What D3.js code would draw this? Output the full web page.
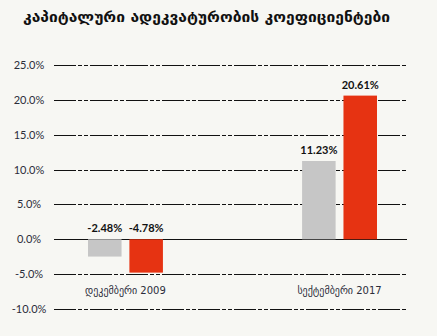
<!DOCTYPE html>
<html><head><meta charset="utf-8">
<script src="https://cdn.jsdelivr.net/npm/d3@7"></script>
<style>
html,body{margin:0;padding:0;background:#f7f7f3;}
svg{display:block;}
</style></head>
<body><svg id="c" width="437" height="336"></svg>
<script>
const title = "კაპიტალური ადეკვატურობის კოეფიციენტები";
const categories = ["დეკემბერი 2009", "სექტემბერი 2017"];
const seriesNames = ["a", "b"];
const seriesA = [-2.48, 11.23];
const seriesB = [-4.78, 20.61];
const yTicks = [-10, -5, 0, 5, 10, 15, 20, 25];
const colors = ["#c6c6c6", "#e63312"];

const loc = d3.formatLocale({decimal:".", thousands:",", grouping:[3], currency:["",""], minus:"-"});
const f1 = loc.format(".1f"), f2 = loc.format(".2f");

const svg = d3.select("#c");
svg.append("rect").attr("width",437).attr("height",336).attr("fill","#f7f7f3");

svg.append("text").attr("x",23).attr("y",22)
  .attr("font-family","DejaVu Sans").attr("font-weight","bold").attr("font-size",15)
  .attr("fill","#111").attr("textLength",367).attr("lengthAdjust","spacingAndGlyphs")
  .text(title);

const y = d3.scaleLinear().domain([-10,25]).range([309,65]);
const x = d3.scaleBand().domain(categories).range([56,409]).paddingInner(0.65).paddingOuter(0.1495);
const xs = d3.scaleBand().domain(seriesNames).range([0,x.bandwidth()]).paddingInner(0.19);

const gx0 = 54, gx1 = 407;
const grid = svg.append("g");
grid.selectAll("line").data(yTicks).join("line")
  .attr("x1",gx0).attr("x2",gx1)
  .attr("y1",d=>Math.round(y(d))+0.5).attr("y2",d=>Math.round(y(d))+0.5)
  .attr("stroke","#111").attr("stroke-width",1)
  .attr("stroke-dasharray",d=>d===0?null:"22,2,4,2,4,2");

const yAxis = d3.axisLeft(y).tickValues(yTicks).tickFormat(d=>f1(d)+"%").tickSize(0);
const ya = svg.append("g").attr("transform","translate(29,0)").call(yAxis);
ya.select(".domain").remove();
ya.selectAll("text").attr("text-anchor","middle").attr("x",0)
  .attr("font-family","Lato").attr("font-size",11).attr("fill","#2b2d3a");

const data = categories.map((c,i)=>({cat:c, vals:[{s:"a",v:seriesA[i]},{s:"b",v:seriesB[i]}]}));
const groups = svg.selectAll("g.grp").data(data).join("g").attr("class","grp")
  .attr("transform",d=>`translate(${x(d.cat)},0)`);
groups.selectAll("rect").data(d=>d.vals).join("rect")
  .attr("x",d=>xs(d.s)).attr("width",xs.bandwidth())
  .attr("y",d=>y(Math.max(0,d.v))).attr("height",d=>Math.abs(y(d.v)-y(0)))
  .attr("fill",(d,i)=>colors[i]);
groups.selectAll("text").data(d=>d.vals).join("text")
  .attr("x",d=>xs(d.s)+xs.bandwidth()/2)
  .attr("y",d=>y(Math.max(0,d.v))-7)
  .attr("text-anchor","middle").attr("font-family","Lato").attr("font-weight","bold")
  .attr("font-size",11).attr("fill","#111")
  .text(d=>f2(d.v)+"%");

svg.selectAll("text.cat").data(categories).join("text").attr("class","cat")
  .attr("x",d=>x(d)+x.bandwidth()/2).attr("y",294)
  .attr("text-anchor","middle").attr("font-family","DejaVu Sans").attr("font-size",10)
  .attr("fill","#2b2d3a").text(d=>d);
</script></body></html>
